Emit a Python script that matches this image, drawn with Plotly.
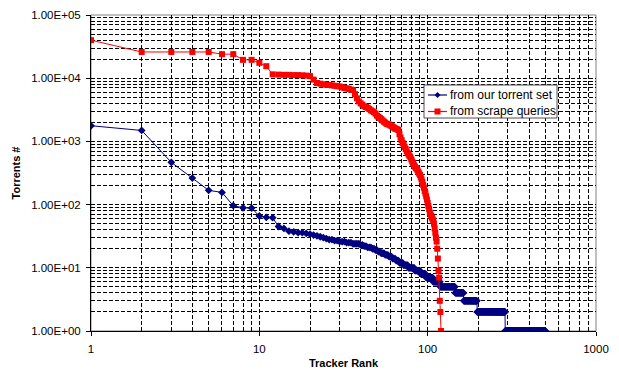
import plotly.graph_objects as go

# ---- data ----
# Red series: torrents per tracker from scrape queries (rank 1..120)
red_values = [
    40000, 26000, 26000, 26000, 26000, 24000, 24000, 19500, 19500, 17500,
    15500, 11500, 11400, 11300, 11300, 11200, 11200, 11100, 11000, 10800,
    9500, 8400, 8200, 8000, 7900, 7800, 7700, 7600, 7500, 7400,
    7200, 7000, 6900, 6800, 6600, 6500, 5600, 4800, 4300, 4000,
    3800, 3600, 3500, 3400, 3250, 3100, 3000, 2900, 2750, 2550,
    2450, 2350, 2250, 2150, 2050, 1980, 1900, 1870, 1850, 1800,
    1750, 1700, 1650, 1600, 1580, 1550, 1520, 1300, 1150, 1050,
    950, 880, 820, 760, 700, 660, 620, 590, 560, 520,
    480, 450, 420, 400, 380, 370, 350, 330, 310, 295,
    270, 250, 230, 205, 185, 165, 150, 135, 120, 106,
    95, 85, 75, 70, 66, 62, 59, 56, 50, 42,
    36, 30, 26, 20, 14, 9, 7, 3, 2, 1,
]

# Blue series: torrents per tracker from our torrent set
blue_head = [
    1770, 1490, 466, 263, 168, 156, 96, 89, 88, 66,
    63, 62, 45, 42, 38, 37, 36, 36, 35, 34,
    33, 32,
]
# tail given as (value, number of trackers with that value)
blue_tail_values = [31, 30, 29, 28, 27, 26, 25, 24, 23, 22, 21, 20, 19, 18, 17, 16,
                    15, 14, 13, 12, 11, 10, 9, 8, 7, 6, 5, 4, 3, 2, 1]
blue_tail_counts = [1, 1, 1, 2, 2, 3, 3, 4, 2, 2, 3, 2, 2, 2, 3, 3,
                    3, 3, 3, 4, 5, 7, 7, 7, 10, 11, 27, 18, 33, 92, 211]

series_names = ["from our torrent set", "from scrape queries"]
series_colors = ["#000080", "#FF0000"]

x_ticks = [1, 10, 100, 1000]
y_ticks = [1, 10, 100, 1000, 10000, 100000]
y_ticktext = ["1.00E+00", "1.00E+01", "1.00E+02", "1.00E+03", "1.00E+04", "1.00E+05"]

blue_values = list(blue_head)
for v, c in zip(blue_tail_values, blue_tail_counts):
    blue_values.extend([v] * c)

blue_ranks = list(range(1, len(blue_values) + 1))
red_ranks = list(range(1, len(red_values) + 1))

FONT = "Liberation Sans, Arial, sans-serif"

minor_x = [m * 10 ** d for d in range(0, 3) for m in range(2, 10)]
minor_y = [m * 10 ** d for d in range(0, 5) for m in range(2, 10)]

fig = go.Figure()
fig.add_trace(go.Scatter(
    x=blue_ranks, y=blue_values, mode="lines+markers",
    name=series_names[0],
    line=dict(color=series_colors[0], width=1),
    marker=dict(symbol="diamond", size=6, color=series_colors[0]),
))
fig.add_trace(go.Scatter(
    x=red_ranks, y=red_values, mode="lines+markers",
    name=series_names[1],
    line=dict(color=series_colors[1], width=1),
    marker=dict(symbol="square", size=6, color=series_colors[1]),
))

grid = dict(gridcolor="#000000", gridwidth=1, griddash="4px,2px")

# ---- custom legend (paper coordinates) ----
L, R, T, B = 91, 596, 15, 331
def px(xp):
    return (xp - L) / (R - L)
def py(yp):
    return (B - yp) / (B - T)

shapes = [dict(type="rect", xref="paper", yref="paper", x0=0, y0=0, x1=1, y1=1,
               line=dict(color="#808080", width=1), layer="below")]
shapes.append(dict(type="rect", xref="paper", yref="paper",
                   x0=px(424), x1=px(557), y0=py(118), y1=py(85),
                   line=dict(color="#505050", width=1), fillcolor="white", layer="above"))
annotations = []
row_y = [95, 111.5]
symbols = ["M0,-3 L3,0 L0,3 L-3,0 Z", "M-3,-3 L3,-3 L3,3 L-3,3 Z"]
for i in range(2):
    shapes.append(dict(type="line", xref="paper", yref="paper",
                       x0=px(428), x1=px(447), y0=py(row_y[i]), y1=py(row_y[i]),
                       line=dict(color=series_colors[i], width=1.2), layer="above"))
    shapes.append(dict(type="path", xref="paper", yref="paper",
                       xsizemode="pixel", ysizemode="pixel",
                       xanchor=px(437.5), yanchor=py(row_y[i]),
                       path=symbols[i], fillcolor=series_colors[i],
                       line=dict(color=series_colors[i], width=0), layer="above"))
    annotations.append(dict(xref="paper", yref="paper", x=px(448), y=py(row_y[i]),
                            xanchor="left", yanchor="middle", showarrow=False,
                            text=series_names[i],
                            font=dict(family=FONT, size=12, color="black")))

fig.update_layout(
    width=619, height=375,
    margin=dict(l=L, r=619 - R, t=T, b=375 - B),
    paper_bgcolor="white", plot_bgcolor="white",
    font=dict(family=FONT, size=11, color="black"),
    showlegend=False,
    xaxis=dict(
        type="log", range=[0, 3], automargin=False,
        tickmode="array", tickvals=x_ticks, ticktext=[str(t) for t in x_ticks],
        ticks="outside", ticklen=4, tickcolor="black",
        showline=True, linecolor="black", linewidth=1,
        showgrid=True, **grid,
        zeroline=False,
        tickfont=dict(family=FONT, size=11.5),
        ticklabelstandoff=3,
        title=dict(text="<b>Tracker Rank</b>", font=dict(family=FONT, size=11), standoff=5),
        minor=dict(tickmode="array", tickvals=minor_x, ticks="inside", ticklen=3,
                   tickcolor="black", showgrid=True, **grid),
    ),
    yaxis=dict(
        type="log", range=[0, 5], automargin=False,
        tickmode="array", tickvals=y_ticks, ticktext=y_ticktext,
        ticks="outside", ticklen=4, tickcolor="black",
        showline=True, linecolor="black", linewidth=1,
        showgrid=True, **grid,
        zeroline=False,
        tickfont=dict(family=FONT, size=11.5),
        ticklabelstandoff=3,
        title=dict(text="<b>Torrents #</b>", font=dict(family=FONT, size=11), standoff=8),
        minor=dict(tickmode="array", tickvals=minor_y, ticks="",
                   showgrid=True, **grid),
    ),
    shapes=shapes,
    annotations=annotations,
)

fig.write_html("out.html")
